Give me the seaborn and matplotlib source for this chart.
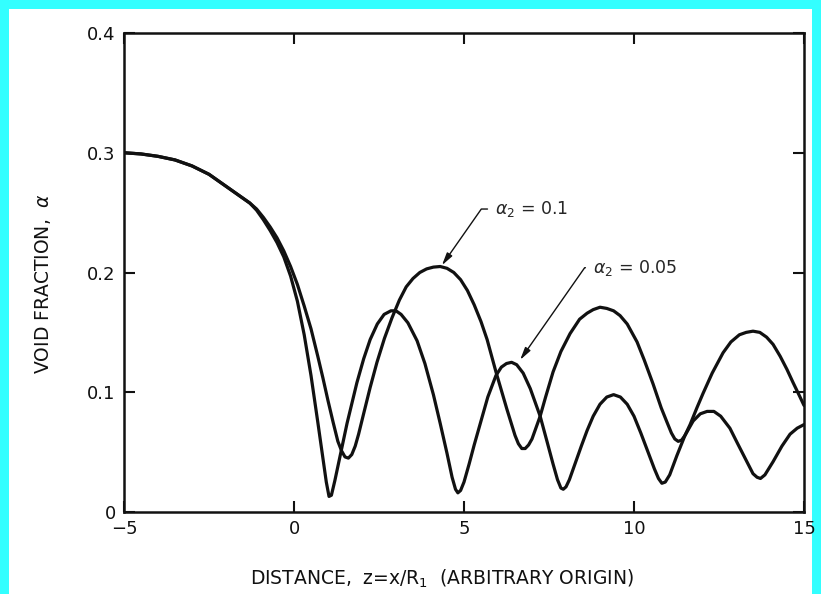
import numpy as np
import pandas as pd
import seaborn as sns
import matplotlib.pyplot as plt
from matplotlib.patches import Rectangle

# --- Data ---
x_ticks = [-5, 0, 5, 10, 15]
x_tick_labels = ["\u22125", "0", "5", "10", "15"]
y_ticks = [0, 0.1, 0.2, 0.3, 0.4]
y_tick_labels = ["0", "0.1", "0.2", "0.3", "0.4"]

# alpha_2 = 0.1
x_a = [-5.0, -4.5, -4.0, -3.5, -3.0, -2.5, -2.0, -1.5, -1.3, -1.1, -0.9, -0.7,
       -0.5, -0.3, -0.1, 0.1, 0.3, 0.5, 0.7, 0.85, 1.0, 1.15, 1.29, 1.4, 1.5,
       1.6, 1.7, 1.8, 1.9, 2.03, 2.24, 2.44, 2.66, 2.88, 3.1, 3.3, 3.5, 3.7,
       3.9, 4.1, 4.3, 4.5, 4.7, 4.9, 5.1, 5.3, 5.5, 5.68, 5.94, 6.26, 6.5, 6.6,
       6.7, 6.8, 6.9, 7.0, 7.24, 7.4, 7.62, 7.85, 8.12, 8.4, 8.62, 8.8, 9.0,
       9.2, 9.4, 9.59, 9.8, 10.09, 10.3, 10.56, 10.8, 10.97, 11.1, 11.2, 11.3,
       11.4, 11.5, 11.65, 11.85, 12.03, 12.3, 12.62, 12.85, 13.1, 13.3, 13.5,
       13.7, 13.9, 14.09, 14.3, 14.5, 14.68, 14.85, 15.0]
y_a = [0.300, 0.299, 0.297, 0.294, 0.289, 0.282, 0.272, 0.262, 0.258, 0.253,
       0.246, 0.238, 0.229, 0.218, 0.205, 0.190, 0.172, 0.153, 0.130, 0.112,
       0.093, 0.075, 0.059, 0.051, 0.046, 0.045, 0.048, 0.055, 0.065, 0.080,
       0.104, 0.125, 0.145, 0.162, 0.177, 0.188, 0.195, 0.200, 0.203, 0.2045,
       0.205, 0.2035, 0.200, 0.194, 0.185, 0.173, 0.159, 0.144, 0.117, 0.086,
       0.064, 0.057, 0.053, 0.053, 0.056, 0.061, 0.080, 0.096, 0.117, 0.134,
       0.149, 0.161, 0.166, 0.169, 0.171, 0.170, 0.168, 0.164, 0.157, 0.142,
       0.127, 0.107, 0.087, 0.075, 0.066, 0.061, 0.059, 0.060, 0.064, 0.073,
       0.087, 0.099, 0.116, 0.133, 0.142, 0.148, 0.150, 0.151, 0.150, 0.146,
       0.140, 0.130, 0.119, 0.108, 0.098, 0.089]

# alpha_2 = 0.05
x_b = [-5.0, -4.5, -4.0, -3.5, -3.0, -2.5, -2.0, -1.5, -1.3, -1.1, -0.9, -0.7,
       -0.5, -0.3, -0.1, 0.1, 0.3, 0.5, 0.7, 0.85, 0.95, 1.03, 1.1, 1.2, 1.35,
       1.56, 1.85, 2.05, 2.24, 2.45, 2.65, 2.85, 3.0, 3.15, 3.35, 3.62, 3.85,
       4.1, 4.3, 4.5, 4.65, 4.75, 4.82, 4.9, 5.0, 5.15, 5.3, 5.47, 5.7, 5.94,
       6.1, 6.25, 6.4, 6.55, 6.74, 6.95, 7.24, 7.45, 7.62, 7.75, 7.85, 7.92,
       8.0, 8.1, 8.25, 8.45, 8.62, 8.8, 9.0, 9.2, 9.4, 9.6, 9.8, 10.0, 10.2,
       10.4, 10.6, 10.72, 10.82, 10.92, 11.05, 11.26, 11.5, 11.74, 11.95, 12.15,
       12.35, 12.55, 12.82, 13.05, 13.32, 13.5, 13.62, 13.72, 13.85, 14.09,
       14.35, 14.59, 14.8, 15.0]
y_b = [0.300, 0.299, 0.297, 0.294, 0.289, 0.282, 0.272, 0.262, 0.258, 0.252,
       0.244, 0.235, 0.225, 0.213, 0.197, 0.176, 0.148, 0.114, 0.075, 0.045,
       0.025, 0.013, 0.014, 0.026, 0.046, 0.074, 0.108, 0.128, 0.144, 0.157,
       0.165, 0.168, 0.168, 0.165, 0.158, 0.143, 0.124, 0.098, 0.074, 0.049,
       0.029, 0.019, 0.016, 0.018, 0.025, 0.040, 0.056, 0.073, 0.096, 0.114,
       0.121, 0.124, 0.125, 0.123, 0.116, 0.103, 0.080, 0.058, 0.040, 0.027,
       0.020, 0.019, 0.021, 0.027, 0.039, 0.055, 0.068, 0.080, 0.090, 0.096,
       0.098, 0.096, 0.090, 0.080, 0.066, 0.051, 0.036, 0.028, 0.024, 0.025,
       0.031, 0.047, 0.064, 0.076, 0.082, 0.084, 0.084, 0.080, 0.070, 0.057,
       0.042, 0.032, 0.029, 0.028, 0.031, 0.042, 0.055, 0.065, 0.070, 0.073]

df_a = pd.DataFrame({"z": x_a, "alpha": y_a})
df_b = pd.DataFrame({"z": x_b, "alpha": y_b})

sns.set_style("ticks")
plt.rcParams["font.family"] = ["DejaVu Sans"]

fig = plt.figure(figsize=(8.21, 5.94), dpi=100)
fig.patch.set_facecolor("#33ffff")
# white page inside the cyan frame
fig.add_artist(Rectangle((9 / 821, 0), 803 / 821, 585 / 594,
                         transform=fig.transFigure, facecolor="white",
                         edgecolor="none", zorder=-10))
ax = fig.add_axes([124 / 821, 1 - 512 / 594, 680 / 821, 479 / 594])

for d in (df_a, df_b):
    sns.lineplot(data=d, x="z", y="alpha", ax=ax, color="#111111",
                 linewidth=2.3, estimator=None, sort=False)
for ln in ax.lines:
    ln.set_solid_joinstyle("round")

ax.set_xlim(-5, 15)
ax.set_ylim(0, 0.4)
ax.set_xticks(x_ticks)
ax.set_xticklabels(x_tick_labels)
ax.set_yticks(y_ticks)
ax.set_yticklabels(y_tick_labels)
ax.tick_params(direction="in", length=8, width=1.5, top=True, right=True,
               labelsize=13, colors="#111111", pad=6)
for s in ax.spines.values():
    s.set_visible(True)
    s.set_linewidth(1.8)
    s.set_color("#111111")

ax.set_xlabel(r"DISTANCE,  z=x/R$_1$  (ARBITRARY ORIGIN)", fontsize=13.5,
              color="#111111")
ax.xaxis.set_label_coords(0.468, -0.116)
ax.set_ylabel(r"VOID FRACTION,  $\alpha$", fontsize=13.5, color="#111111")
ax.yaxis.set_label_coords(-0.105, 0.478)

arrow = dict(arrowstyle="-|>,head_length=0.6,head_width=0.15", color="#111111",
             lw=1.0, relpos=(0, 0.5), shrinkA=3, shrinkB=0,
             connectionstyle="angle,angleA=0,angleB=55,rad=0")
ax.annotate(r"$\alpha_2$ = 0.1", xy=(4.35, 0.206), xytext=(5.91, 0.253),
            fontsize=12.5, va="center", ha="left", arrowprops=arrow)
ax.annotate(r"$\alpha_2$ = 0.05", xy=(6.65, 0.127), xytext=(8.79, 0.204),
            fontsize=12.5, va="center", ha="left", arrowprops=arrow)

fig.savefig("out.png", dpi=100, facecolor=fig.get_facecolor())
